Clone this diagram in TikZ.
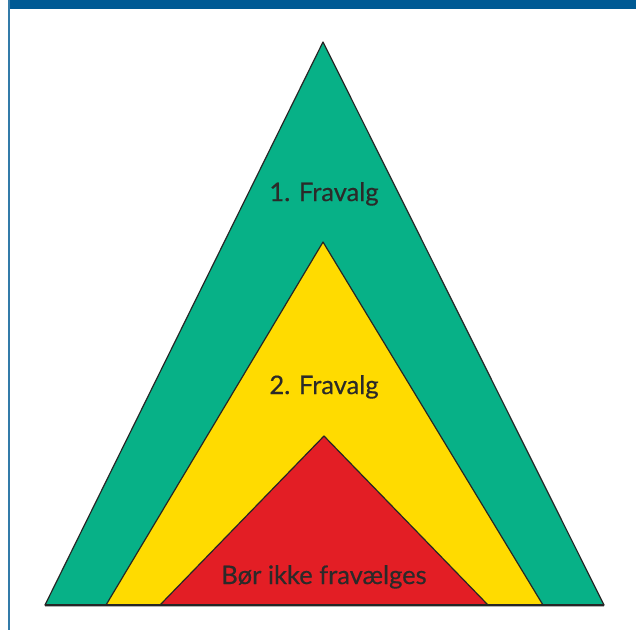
\documentclass[tikz,border=0pt]{standalone}
\usepackage{fontspec}
\newfontfamily\lblfont{Lato}[UprightFeatures={FakeBold=0.5}]
\definecolor{bluebar}{HTML}{005A94}
\definecolor{tgreen}{HTML}{07B187}
\definecolor{tyellow}{HTML}{FFDB00}
\definecolor{tred}{HTML}{E31E25}
\definecolor{txt}{HTML}{2B2A29}
\begin{document}
\begin{tikzpicture}[x=1pt,y=-1pt,
  tri/.style={draw=black!85,line width=1.2pt,line join=round},
  lbl/.style={text=txt,font=\lblfont\fontsize{25.5}{28}\selectfont,anchor=base,inner sep=0pt}]
\useasboundingbox (0,0) rectangle (636,630);
\fill[white] (0,0) rectangle (636,630);
\fill[bluebar] (8,0) rectangle (636,8.5);
\fill[bluebar!80] (8,0) rectangle (10,630);
\coordinate (gA) at (323,42);
\coordinate (gL) at (45,605);
\coordinate (gR) at (604,605);
\coordinate (yA) at (323,242);
\coordinate (yL) at (106,605);
\coordinate (yR) at (543,605);
\coordinate (rA) at (324,436);
\coordinate (rL) at (160,605);
\coordinate (rR) at (488,605);
\filldraw[tri,fill=tgreen] (gL) -- (gA) -- (gR) -- cycle;
\filldraw[tri,fill=tyellow] (yL) -- (yA) -- (yR) -- cycle;
\filldraw[tri,fill=tred] (rL) -- (rA) -- (rR) -- cycle;
\draw[black!30,line width=1pt] ([yshift=-1.5pt]gL) -- ([yshift=-1.5pt]gR);
\draw[black!85,line width=1.4pt] (gL) -- (gR);
\node[lbl] (t1) at (324,201) {1. Fravalg};
\node[lbl] (t2) at (324,394) {2. Fravalg};
\node[lbl] (t3) at (324,584) {Bør ikke fravælges};
\end{tikzpicture}
\end{document}
